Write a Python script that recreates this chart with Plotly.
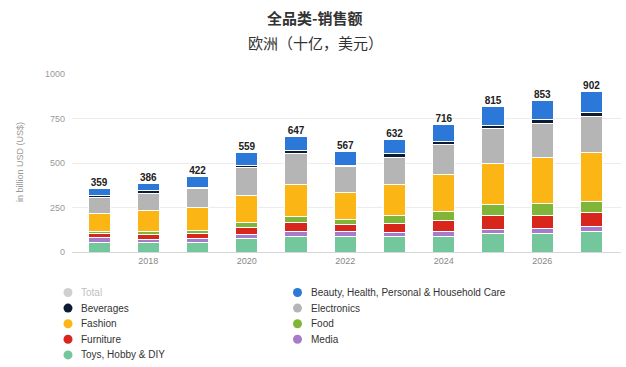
import plotly.graph_objects as go

years = [2017, 2018, 2019, 2020, 2021, 2022, 2023, 2024, 2025, 2026, 2027]
totals = [359, 386, 422, 559, 647, 567, 632, 716, 815, 853, 902]

toys = [55, 51, 51, 77, 87, 87, 87, 87, 105, 105, 115]
media = [25, 19, 24, 24, 28, 28, 23, 28, 23, 28, 28]
furniture = [22, 30, 28, 38, 51, 38, 49, 60, 77, 72, 79]
food = [12, 13, 19, 24, 34, 28, 45, 53, 60, 70, 62]
fashion = [105, 122, 128, 156, 179, 154, 175, 207, 235, 254, 273]
electronics = [88, 96, 106, 155, 175, 145, 150, 168, 194, 194, 203]
beverages = [12, 15, 8, 13, 14, 8, 24, 19, 19, 22, 24]
beauty = [40, 40, 58, 72, 79, 79, 79, 94, 102, 108, 118]

xtick_labels = ["2018", "2020", "2022", "2024", "2026"]
xtick_vals = [2018, 2020, 2022, 2024, 2026]
ytick_vals = [0, 250, 500, 750, 1000]

series = [
    ("Toys, Hobby & DIY", toys, "#74c69d"),
    ("Media", media, "#a77bca"),
    ("Furniture", furniture, "#d9261c"),
    ("Food", food, "#7fb539"),
    ("Fashion", fashion, "#fbb514"),
    ("Electronics", electronics, "#b5b5b5"),
    ("Beverages", beverages, "#0d1b33"),
    ("Beauty, Health, Personal & Household Care", beauty, "#2b78d8"),
]

# legend entries, row-major in two columns
legend_order = [
    ("Total", "#d0d0d0"),
    ("Beauty, Health, Personal & Household Care", "#2b78d8"),
    ("Beverages", "#0d1b33"),
    ("Electronics", "#b5b5b5"),
    ("Fashion", "#fbb514"),
    ("Food", "#7fb539"),
    ("Furniture", "#d9261c"),
    ("Media", "#a77bca"),
    ("Toys, Hobby & DIY", "#74c69d"),
]

W, H = 626, 367
L, R, T, B = 72, 5, 74, 115
PW, PH = W - L - R, H - T - B


def px_x(px):
    return (px - L) / PW


def px_y(py):
    return (H - B - py) / PH


fig = go.Figure()
for name, vals, col in series:
    fig.add_trace(go.Bar(
        x=years, y=vals, name=name, showlegend=False,
        marker=dict(color=col, line=dict(color="white", width=1)),
        width=0.45,
    ))

fig.add_trace(go.Scatter(
    x=years, y=totals, mode="text", text=[f"<b>{t}</b>" for t in totals],
    textposition="top center", showlegend=False, cliponaxis=False,
    textfont=dict(family="Liberation Sans, Arial", size=10, color="#222"),
))

shapes = []
annotations = []
for i, (name, col) in enumerate(legend_order):
    row, colidx = divmod(i, 2)
    cx = 68 if colidx == 0 else 297.5
    cy = 292.5 + row * 15.6
    shapes.append(dict(
        type="circle", xref="paper", yref="paper",
        xsizemode="pixel", ysizemode="pixel",
        xanchor=px_x(cx), yanchor=px_y(cy),
        x0=-4.5, x1=4.5, y0=-4.5, y1=4.5,
        fillcolor=col, line=dict(width=0),
    ))
    annotations.append(dict(
        text=name, xref="paper", yref="paper",
        x=px_x(cx + 11), y=px_y(cy), xanchor="left", yanchor="middle",
        showarrow=False,
        font=dict(family="Liberation Sans, Arial", size=10,
                  color="#c0c0c0" if name == "Total" else "#333"),
    ))

annotations.append(dict(
    text="<b>全品类-销售额</b>", xref="paper", yref="paper",
    x=px_x(315), y=px_y(17), xanchor="center", yanchor="middle", showarrow=False,
    font=dict(family="Noto Sans CJK SC", size=15, color="#333"),
))
annotations.append(dict(
    text="欧洲（十亿，美元）", xref="paper", yref="paper",
    x=px_x(315), y=px_y(42), xanchor="center", yanchor="middle", showarrow=False,
    font=dict(family="Noto Sans CJK SC", size=15, color="#333"),
))
annotations.append(dict(
    text="in billion USD (US$)", xref="paper", yref="paper",
    x=px_x(20), y=px_y(162), xanchor="center", yanchor="middle", showarrow=False,
    textangle=-90, font=dict(family="Liberation Sans, Arial", size=9, color="#999"),
))

fig.update_layout(
    width=W, height=H,
    barmode="stack",
    plot_bgcolor="white", paper_bgcolor="white",
    margin=dict(l=L, r=R, t=T, b=B, autoexpand=False),
    font=dict(family="Liberation Sans, Arial", size=10, color="#333"),
    showlegend=False,
    shapes=shapes,
    annotations=annotations,
)

fig.update_xaxes(
    range=[2016.45, 2027.6], tickvals=xtick_vals, ticktext=xtick_labels,
    showgrid=False, showline=True, linecolor="#d8d8d8", linewidth=1,
    tickfont=dict(size=9, color="#888"), ticks="", automargin=False,
)
fig.update_yaxes(
    range=[0, 1000], tickvals=ytick_vals,
    showgrid=True, gridcolor="#ececec", gridwidth=1, zeroline=False,
    tickfont=dict(size=9, color="#999"), automargin=False,
    ticklabelstandoff=6,
)

fig.write_html(
    "out.html",
    config={"displayModeBar": False},
    post_script="document.body.style.margin='0';document.body.style.padding='0';",
)
